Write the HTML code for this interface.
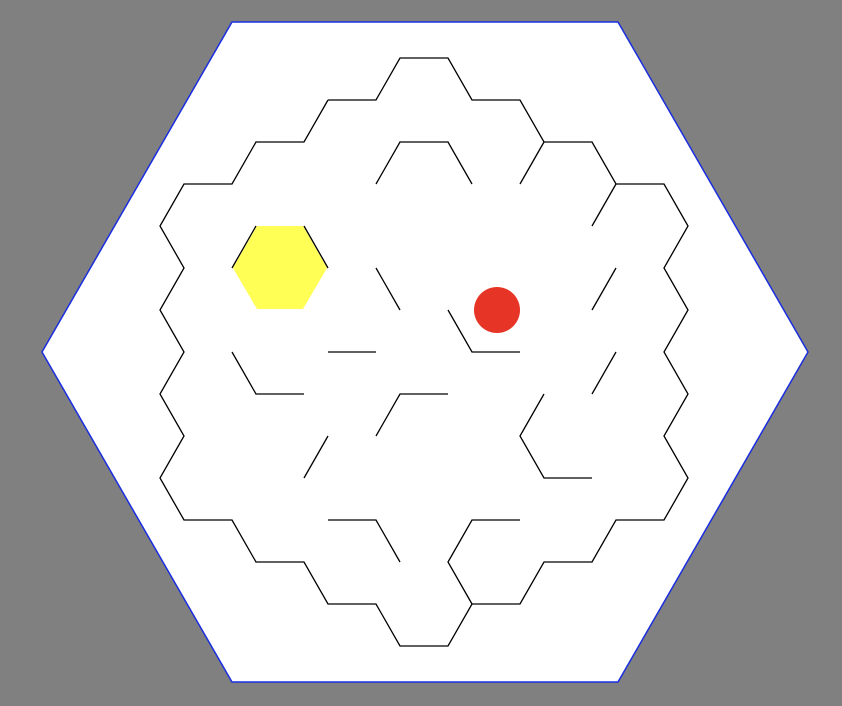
<!DOCTYPE html>
<html><head><meta charset="utf-8"><style>html,body{margin:0;padding:0;background:#808080}svg{display:block}</style></head>
<body>
<svg width="842" height="706" viewBox="0 0 842 706">
<rect x="0" y="0" width="842" height="706" fill="#808080"/>
<polygon points="232,22 618,22 808,352 618,682 232,682 42,352" fill="#fff" stroke="#1a2ee0" stroke-width="1.5"/>
<polygon points="233,268 257,226 303,226 327,268 303,309 257,309" fill="#ffff55"/>
<circle cx="497" cy="310" r="23" fill="#e63526"/>
<g fill="none" stroke="#000" stroke-width="1.3">
<polyline points="328,100 376,100 400,58 448,58 472,100 520,100 544,142 592,142 616,184 664,184 688,226 664,268 688,310 664,352 688,394 664,436 688,478 664,520 616,520 592,562 544,562 520,604 472,604 448,646 400,646 376,604 328,604 304,562 256,562 232,520 184,520 160,478 184,436 160,394 184,352 160,310 184,268 160,226 184,184 232,184 256,142 304,142 328,100"/>
<polyline points="376,184 400,142 448,142 472,184"/>
<polyline points="520,184 544,142"/>
<polyline points="616,184 592,226"/>
<polyline points="232,268 256,226"/>
<polyline points="304,226 328,268"/>
<polyline points="376,268 400,310"/>
<polyline points="616,268 592,310"/>
<polyline points="448,310 472,352 520,352"/>
<polyline points="328,352 376,352"/>
<polyline points="232,352 256,394 304,394"/>
<polyline points="616,352 592,394"/>
<polyline points="376,436 400,394 448,394"/>
<polyline points="544,394 520,436 544,478 592,478"/>
<polyline points="328,436 304,478"/>
<polyline points="328,520 376,520 400,562"/>
<polyline points="472,604 448,562 472,520 520,520"/>
</g>
</svg>
</body></html>
